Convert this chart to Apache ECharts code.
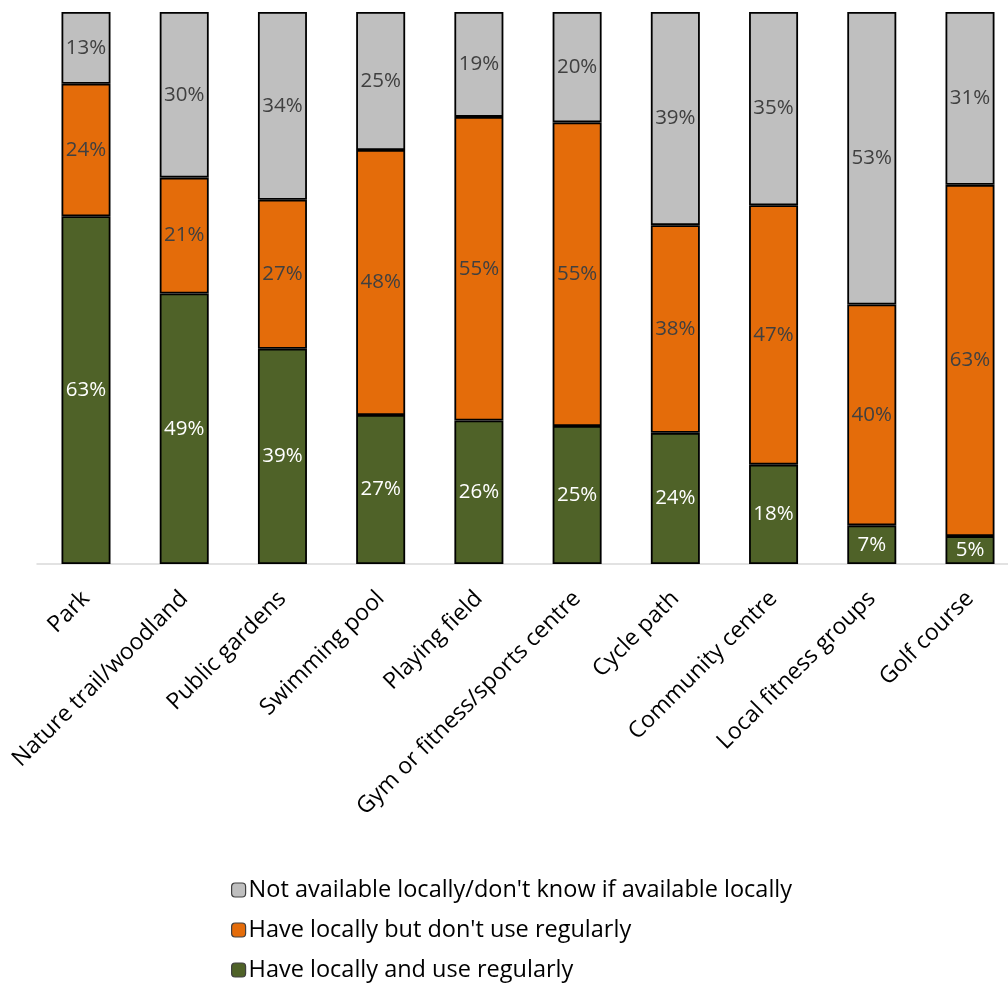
<!DOCTYPE html>
<html>
<head>
<meta charset="utf-8">
<script src="https://cdn.jsdelivr.net/npm/echarts@6/dist/echarts.min.js"></script>
<style>
  html, body { margin: 0; padding: 0; background: #fff; }
  #chart { width: 1008px; height: 987px; }
</style>
</head>
<body>
<div id="chart"></div>
<script>
// Facilities and how respondents relate to them (percent of respondents)
const categories = [
  'Park', 'Nature trail/woodland', 'Public gardens', 'Swimming pool', 'Playing field',
  'Gym or fitness/sports centre', 'Cycle path', 'Community centre', 'Local fitness groups', 'Golf course'
];
const useRegularly = [63, 49, 39, 27, 26, 25, 24, 18, 7, 5];
const haveNotUse = [24, 21, 27, 48, 55, 55, 38, 47, 40, 63];
const notAvailable = [13, 30, 34, 25, 19, 20, 39, 35, 53, 31];

const seriesNames = [
  'Have locally and use regularly',
  "Have locally but don't use regularly",
  "Not available locally/don't know if available locally"
];
const seriesColors = ['#4F6228', '#E46C0A', '#BFBFBF'];
const labelColors = ['#FFFFFF', '#404040', '#404040'];

// 100% stacking: each column is scaled to its own total
const totals = categories.map((_, i) => useRegularly[i] + haveNotUse[i] + notAvailable[i]);
const FONT = 'Open Sans';

function makeSeries(values, idx) {
  return {
    name: seriesNames[idx],
    type: 'bar',
    stack: 'share',
    barWidth: 49,
    clip: false,
    xAxisIndex: 0,
    yAxisIndex: 0,
    data: values.map((v, i) => ({ value: v / totals[i] * 100, raw: v })),
    itemStyle: { color: seriesColors[idx], borderColor: '#000', borderWidth: 1.8 },
    label: {
      show: true,
      position: 'inside',
      color: labelColors[idx],
      fontFamily: FONT,
      fontSize: 20.5,
      formatter: p => p.data.raw + '%'
    },
    emphasis: { disabled: true }
  };
}

const chart = echarts.init(document.getElementById('chart'), null, { renderer: 'canvas' });
chart.setOption({
  animation: false,
  backgroundColor: '#fff',
  grid: [
    // bars: category points sit on the grid edges
    { left: 86, right: 38, top: 12, height: 552 },
    // baseline running under the whole plot
    { left: 37, right: 0, top: 12, height: 552 }
  ],
  xAxis: [
    {
      type: 'category',
      gridIndex: 0,
      data: categories,
      boundaryGap: false,
      axisLine: { show: false },
      axisTick: { show: false },
      splitLine: { show: false },
      axisLabel: {
        interval: 0,
        rotate: 45,
        margin: 31,
        color: '#000',
        fontFamily: FONT,
        fontSize: 23
      }
    },
    {
      type: 'value',
      gridIndex: 1,
      axisLine: { show: true, lineStyle: { color: '#D9D9D9', width: 1.5 } },
      axisTick: { show: false },
      axisLabel: { show: false },
      splitLine: { show: false }
    }
  ],
  yAxis: [
    { type: 'value', gridIndex: 0, min: 0, max: 100, show: false, splitLine: { show: false } },
    { type: 'value', gridIndex: 1, min: 0, max: 100, show: false, splitLine: { show: false } }
  ],
  legend: {
    orient: 'vertical',
    left: 226,
    top: 873,
    height: 114,
    itemWidth: 14,
    itemHeight: 14,
    itemGap: 16,
    data: [seriesNames[2], seriesNames[1], seriesNames[0]],
    itemStyle: { borderColor: '#404040', borderWidth: 1.2 },
    textStyle: { color: '#000', fontFamily: FONT, fontSize: 23.5, lineHeight: 23, padding: [0, 0, 0, -2] }
  },
  series: [
    makeSeries(useRegularly, 0),
    makeSeries(haveNotUse, 1),
    makeSeries(notAvailable, 2)
  ]
});
</script>
</body>
</html>
